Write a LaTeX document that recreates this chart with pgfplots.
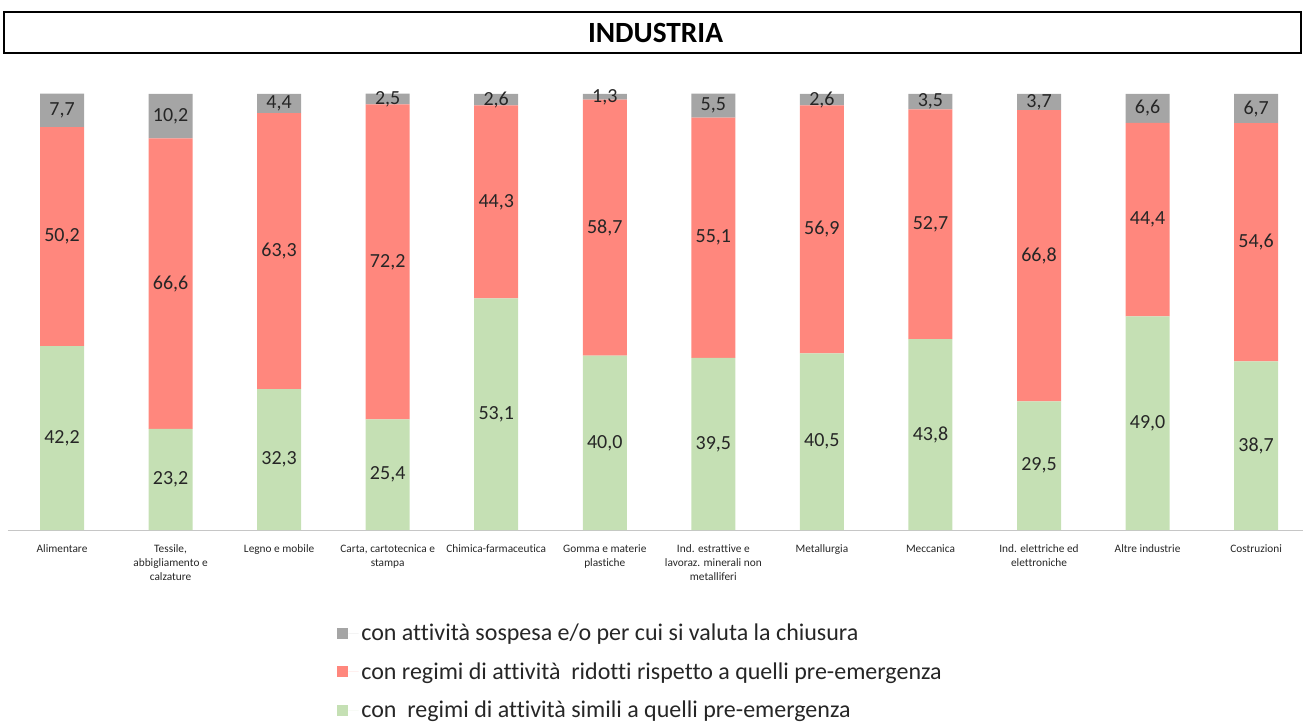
\documentclass[border=0pt]{standalone}
\usepackage{pgfplots}
\pgfplotsset{compat=1.18}
\usepackage{pgfplotstable}
\usepackage{fontspec}
\setmainfont{Carlito}[Ligatures=CommonOff]
\definecolor{cgreen}{HTML}{C5E0B4}
\definecolor{cred}{HTML}{FF877D}
\definecolor{cgrey}{HTML}{A5A5A5}
\pgfplotstableread{
x g r s
0 42.2 50.2 7.7
1 23.2 66.6 10.2
2 32.3 63.3 4.4
3 25.4 72.2 2.5
4 53.1 44.3 2.6
5 40.0 58.7 1.3
6 39.5 55.1 5.5
7 40.5 56.9 2.6
8 43.8 52.7 3.5
9 29.5 66.8 3.7
10 49.0 44.4 6.6
11 38.7 54.6 6.7
}\data
\begin{document}
\begin{tikzpicture}[x=0.75pt,y=0.75pt]
\useasboundingbox (0,0) rectangle (1303,722);
\draw[line width=1.5pt] (4,710) rectangle (1301,669);
\node[font=\bfseries\fontsize{22}{25}\selectfont] at (655.5,689.5) {INDUSTRIA};
\pgfplotsset{common/.style={scale only axis, width=977pt, height=327pt, at={(5.8pt,144pt)}, anchor=south west, xmin=-0.5, xmax=11.5, ymin=0, ymax=100}}
\begin{axis}[common, ybar stacked, bar width=33pt,
  axis x line*=bottom, axis y line=none, ytick=\empty,
  x axis line style={draw=gray!45, line width=0.6pt},
  xtick={0,...,11}, xtick style={draw=none},
  xticklabels={Alimentare, {Tessile,\\abbigliamento e\\calzature}, Legno e mobile, {Carta, cartotecnica e\\stampa}, Chimica-farmaceutica, Gomma e materie\\plastiche, Ind. estrattive e\\lavoraz. minerali non\\metalliferi, Metallurgia, Meccanica, Ind. elettriche ed\\elettroniche, Altre industrie, Costruzioni},
  xticklabel style={align=center, font=\fontsize{8.5}{10.5}\selectfont, text=black!85, yshift=-7.75pt},
  legend style={at={(0.2528,-0.2087)}, anchor=north west, draw=none, fill=none, font=\fontsize{18}{21}\selectfont, row sep=10.85pt, inner sep=0pt, cells={anchor=west}, text=black!85},
  reverse legend]
\addplot[fill=cgreen, draw=none, legend image code/.code={\fill[cgreen] (0pt,-4pt) rectangle (8.25pt,4.25pt); \path (8.25pt,0) -- (16pt,0);}] table[x=x, y=g] {\data};
\addplot[fill=cred, draw=none, legend image code/.code={\fill[cred] (0pt,-4pt) rectangle (8.25pt,4.25pt); \path (8.25pt,0) -- (16pt,0);}] table[x=x, y=r] {\data};
\addplot[fill=cgrey, draw=none, legend image code/.code={\fill[cgrey] (0pt,-4pt) rectangle (8.25pt,4.25pt); \path (8.25pt,0) -- (16pt,0);}] table[x=x, y=s] {\data};
\legend{con\ \ regimi di attività simili a quelli pre-emergenza, con regimi di attività\ \ ridotti rispetto a quelli pre-emergenza, con attività sospesa e/o per cui si valuta la chiusura}
\end{axis}
\begin{axis}[common, hide axis, clip=false,
  nodes near coords={\pgfmathprintnumber{\pgfplotspointmeta}},
  nodes near coords align=center,
  every node near coord/.append style={font=\fontsize{15}{18}\selectfont, text=black!85, inner sep=0pt},
  /pgf/number format/.cd, fixed, fixed zerofill, precision=1, use comma, assume math mode=true]
\addplot[draw=none, point meta=\thisrow{g}] table[x=x, y expr=\thisrow{g}/2] {\data};
\addplot[draw=none, point meta=\thisrow{r}] table[x=x, y expr=\thisrow{g}+\thisrow{r}/2] {\data};
\addplot[draw=none, point meta=\thisrow{s}] table[x=x, y expr=\thisrow{g}+\thisrow{r}+\thisrow{s}/2] {\data};
\end{axis}
\end{tikzpicture}
\end{document}
